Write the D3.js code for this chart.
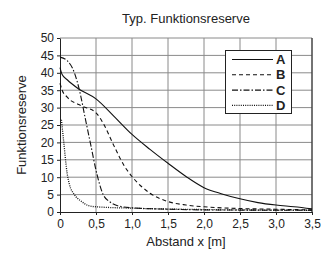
<!DOCTYPE html>
<meta charset="utf-8">
<style>
	body { margin: 0; background: #fff; }
	text { font-family: "Liberation Sans", Arial, sans-serif; fill: #222; }
	.grid line { stroke: #8a8a8a; stroke-width: 1; }
	.axis path, .axis line { stroke: #222; }
</style>
<body>
<svg id="chart" width="333" height="253"></svg>
<script src="https://cdn.jsdelivr.net/npm/d3@7"></script>
<script>
	// values
	var xTicks = [0, 0.5, 1.0, 1.5, 2.0, 2.5, 3.0, 3.5];
	var yTicks = [0, 5, 10, 15, 20, 25, 30, 35, 40, 45, 50];
	var names = ["A", "B", "C", "D"];
	var dashes = ["none", "4,3", "6,2,1.5,2", "1,1.2"];

	var curveA = [[0,41.5],[0.03,39.5],[0.1,38],[0.25,35.5],[0.5,32.5],[0.75,27.5],[1.0,22.3],[1.25,18],[1.5,14],[1.75,10.2],[2.0,7],[2.25,5.2],[2.5,3.8],[2.75,2.7],[3.0,2],[3.25,1.5],[3.5,0.9]];
	var curveB = [[0,37],[0.03,35],[0.1,33],[0.3,30.5],[0.5,28.5],[0.6,25.5],[0.75,19],[0.9,13],[1.0,10.2],[1.25,5.4],[1.5,3],[1.75,2],[2.0,1.5],[2.5,1],[3.0,0.8],[3.5,0.6]];
	var curveC = [[0,44.5],[0.1,43.5],[0.2,40],[0.27,35],[0.35,27],[0.43,19],[0.5,12],[0.6,5],[0.7,2.8],[0.8,1.8],[1.0,1.2],[1.5,0.8],[2.0,0.6],[3.5,0.5]];
	var curveD = [[0.02,26.5],[0.05,20.5],[0.1,11],[0.13,8],[0.2,5],[0.3,3],[0.4,1.8],[0.5,1.5],[1.0,1.1],[2.0,0.7],[3.5,0.5]];
	var series = [curveA, curveB, curveC, curveD];

	var svg = d3.select("#chart");
	var pLeft = 60, pRight = 312, pTop = 38, pBottom = 212;

	var x = d3.scaleLinear().domain([0, 3.5]).range([pLeft, pRight]);
	var y = d3.scaleLinear().domain([0, 50]).range([pBottom, pTop]);
	var fmt = function(d) { return d3.format(".1f")(d).replace(".", ","); };

	// grid
	var grid = svg.append("g").attr("class", "grid");
	grid.selectAll(".gx").data(xTicks.slice(1)).enter().append("line")
		.attr("x1", d => x(d)).attr("x2", d => x(d)).attr("y1", pTop).attr("y2", pBottom);
	grid.selectAll(".gy").data(yTicks.slice(1)).enter().append("line")
		.attr("x1", pLeft).attr("x2", pRight).attr("y1", d => y(d)).attr("y2", d => y(d));

	// axes
	svg.append("g").attr("class", "axis").attr("transform", "translate(0," + pBottom + ")")
		.call(d3.axisBottom(x).tickValues(xTicks).tickFormat(d => d === 0 ? "0" : fmt(d)).tickSize(3).tickSizeOuter(0))
		.selectAll("text").style("font-size", "12px").attr("dy", "0.85em");
	svg.append("g").attr("class", "axis").attr("transform", "translate(" + pLeft + ",0)")
		.call(d3.axisLeft(y).tickValues(yTicks).tickSize(3).tickSizeOuter(0))
		.selectAll("text").style("font-size", "12px");
	svg.append("line").attr("x1", pRight).attr("x2", pRight).attr("y1", pTop).attr("y2", pBottom).attr("stroke", "#222");

	// curves
	var line = d3.line().x(d => x(d[0])).y(d => y(d[1])).curve(d3.curveMonotoneX);
	svg.selectAll(".curve").data(series).enter().append("path")
		.attr("d", line).attr("fill", "none").attr("stroke", "#111")
		.attr("stroke-width", (d, i) => i === 3 ? 1.3 : 1.1)
		.attr("stroke-dasharray", (d, i) => dashes[i]);

	// legend
	var lg = svg.append("g");
	lg.append("rect").attr("x", 225.5).attr("y", 50.5).attr("width", 66).attr("height", 63)
		.attr("fill", "#fff").attr("stroke", "#222");
	names.forEach(function(n, i) {
		var ly = 59.5 + i * 15.3;
		lg.append("line").attr("x1", 232).attr("x2", 273).attr("y1", ly).attr("y2", ly)
			.attr("stroke", "#111").attr("stroke-width", i === 3 ? 1.3 : 1.1).attr("stroke-dasharray", dashes[i]);
		lg.append("text").attr("x", 276).attr("y", ly + 4.5).text(n)
			.style("font-size", "13px").style("font-weight", "bold");
	});

	// titles
	svg.append("text").attr("x", 186).attr("y", 23).attr("text-anchor", "middle")
		.style("font-size", "13px").text("Typ. Funktionsreserve");
	svg.append("text").attr("x", 186).attr("y", 246).attr("text-anchor", "middle")
		.style("font-size", "13px").text("Abstand x [m]");
	svg.append("text").attr("transform", "translate(26,125) rotate(-90)").attr("text-anchor", "middle")
		.style("font-size", "13px").text("Funktionsreserve");
</script>
</body>
